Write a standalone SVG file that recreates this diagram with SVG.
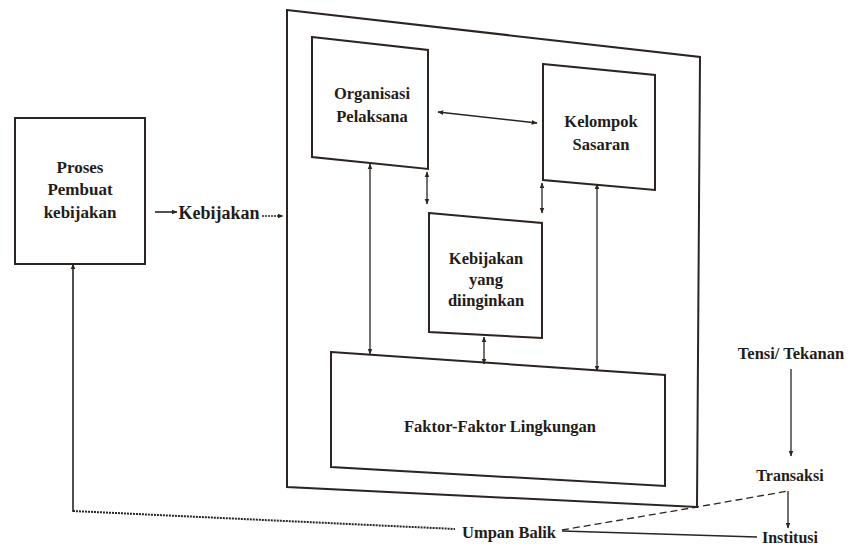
<svg xmlns="http://www.w3.org/2000/svg" width="849" height="546" viewBox="0 0 849 546">
<defs>
<style>
.box{fill:none;stroke:#2b2420;stroke-width:2}
.ln{fill:none;stroke:#2b2420;stroke-width:1.3}
.dot{fill:none;stroke:#2b2420;stroke-width:2;stroke-dasharray:2 1}
.dash{fill:none;stroke:#2b2420;stroke-width:1.3;stroke-dasharray:7 4}
.t{font-family:"Liberation Serif",serif;font-weight:bold;font-size:16.5px;fill:#231c18;text-anchor:middle}
</style>
<marker id="ah" viewBox="0 0 10 10" refX="9" refY="5" markerWidth="6" markerHeight="6" orient="auto-start-reverse" markerUnits="userSpaceOnUse">
<path d="M0,1 L10,5 L0,9 Z" fill="#2b2420"/>
</marker>
</defs>
<rect width="849" height="546" fill="#ffffff"/>

<g id="outer">
<path class="box" d="M287,10 L700,57 L697,507 L287,487 Z"/>
</g>

<g id="proses">
<rect class="box" x="15" y="118" width="130" height="146"/>
<text class="t" x="80" y="173" style="font-size:17px">Proses</text>
<text class="t" x="80" y="195" style="font-size:17px">Pembuat</text>
<text class="t" x="80" y="218" style="font-size:17px">kebijakan</text>
</g>

<g id="kebijakan-label">
<text class="t" x="219" y="219" style="font-size:18px">Kebijakan</text>
</g>

<g id="organisasi">
<path class="box" d="M312,37 L428,50 L428,169 L312,157 Z"/>
<text class="t" x="372" y="99">Organisasi</text>
<text class="t" x="372" y="122">Pelaksana</text>
</g>

<g id="kelompok">
<path class="box" d="M543,64 L655,75 L655,190 L543,180 Z"/>
<text class="t" x="601" y="127">Kelompok</text>
<text class="t" x="601" y="150">Sasaran</text>
</g>

<g id="kebijakan-diinginkan">
<path class="box" d="M429,213 L542,223 L542,338 L429,332 Z"/>
<text class="t" x="486" y="264">Kebijakan</text>
<text class="t" x="486" y="285">yang</text>
<text class="t" x="486" y="306">diinginkan</text>
</g>

<g id="faktor">
<path class="box" d="M331,352 L665,375 L665,486 L331,467 Z"/>
<text class="t" x="500" y="432">Faktor-Faktor Lingkungan</text>
</g>

<g id="tensi">
<text class="t" x="791" y="359" style="font-size:16.5px">Tensi/ Tekanan</text>
</g>
<g id="transaksi">
<text class="t" x="790" y="481" style="font-size:16px">Transaksi</text>
</g>
<g id="institusi">
<text class="t" x="790" y="543" style="font-size:16px">Institusi</text>
</g>
<g id="umpan-balik">
<text class="t" x="509" y="538">Umpan Balik</text>
</g>

<g id="connectors">
<line class="ln" x1="155" y1="212" x2="177" y2="212" marker-end="url(#ah)" style="stroke-width:1.6"/>
<line class="dot" x1="262" y1="216" x2="283" y2="216" marker-end="url(#ah)" style="stroke-width:1.3"/>
<line class="ln" x1="438" y1="112" x2="537" y2="123" marker-start="url(#ah)" marker-end="url(#ah)"/>
<line class="ln" x1="370" y1="164" x2="370" y2="354" marker-start="url(#ah)" marker-end="url(#ah)"/>
<line class="ln" x1="427" y1="172" x2="427" y2="204" marker-start="url(#ah)" marker-end="url(#ah)"/>
<line class="ln" x1="542" y1="183" x2="542" y2="213" marker-start="url(#ah)" marker-end="url(#ah)"/>
<line class="ln" x1="484" y1="337" x2="484" y2="364" marker-start="url(#ah)" marker-end="url(#ah)"/>
<line class="ln" x1="597" y1="184" x2="597" y2="371" marker-start="url(#ah)" marker-end="url(#ah)"/>
<line class="ln" x1="791" y1="369" x2="791" y2="456" marker-end="url(#ah)"/>
<path class="ln" d="M73,512 L73,264" marker-end="url(#ah)" style="stroke-width:1.6"/>
<path class="dot" d="M73,511 L455,529"/>
<path class="dash" d="M562,530 L697,507 L788,491"/>
<line class="ln" x1="788" y1="491" x2="788" y2="528" marker-end="url(#ah)"/>
<line class="ln" x1="562" y1="531" x2="757" y2="537"/>
</g>
</svg>
